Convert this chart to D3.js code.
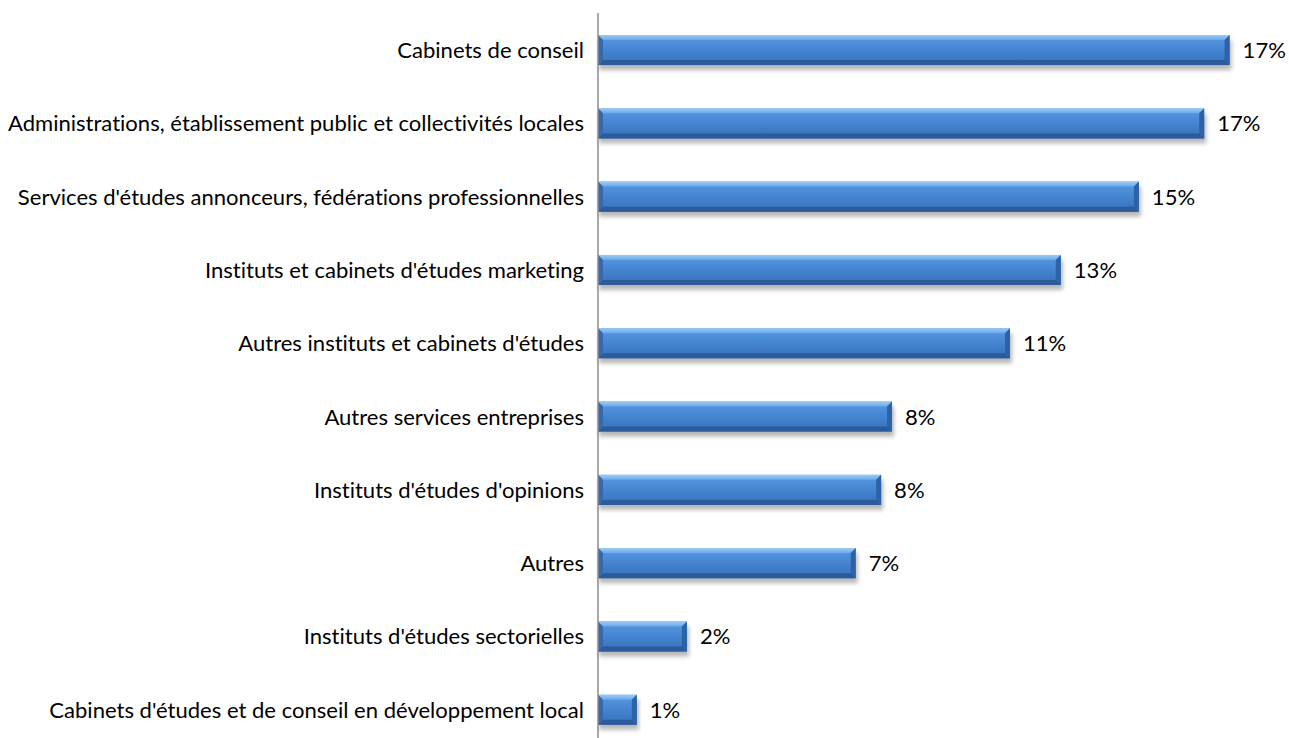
<!DOCTYPE html>
<html><head><meta charset="utf-8">
<script src="https://cdn.jsdelivr.net/npm/d3@7"></script>
<style>
html,body{margin:0;padding:0;background:#fff;}
text{font-family:Lato,"Open Sans",sans-serif;font-weight:400;font-variant-ligatures:none;font-feature-settings:"liga" 0,"clig" 0;}
</style></head>
<body><svg id="c" width="1289" height="738"></svg>
<script>
const categories = [
  "Cabinets de conseil",
  "Administrations, établissement public et collectivités locales",
  "Services d'études annonceurs, fédérations professionnelles",
  "Instituts et cabinets d'études marketing",
  "Autres instituts et cabinets d'études",
  "Autres services entreprises",
  "Instituts d'études d'opinions",
  "Autres",
  "Instituts d'études sectorielles",
  "Cabinets d'études et de conseil en développement local"
];
const values = [17.4, 16.7, 14.9, 12.75, 11.35, 8.1, 7.8, 7.1, 2.45, 1.07];
const valueLabels = ["17%","17%","15%","13%","11%","8%","8%","7%","2%","1%"];

const svg = d3.select("#c");
const x0 = 598;
const x = d3.scaleLinear().domain([0, 1]).range([x0, x0 + 3630]);
const y = d3.scaleBand().domain(categories).range([13.4, 746.4]).paddingInner(0.59).paddingOuter(0.295);

const defs = svg.append("defs");
const g1 = defs.append("linearGradient").attr("id","face").attr("x1",0).attr("y1",0).attr("x2",0).attr("y2",1);
[[0,"#5a9be2"],[0.45,"#4686d3"],[1,"#3670ba"]].forEach(s=>g1.append("stop").attr("offset",s[0]).attr("stop-color",s[1]));
const g2 = defs.append("linearGradient").attr("id","top").attr("x1",0).attr("y1",0).attr("x2",0).attr("y2",1);
[[0,"#9ccbf5"],[1,"#6aa8ea"]].forEach(s=>g2.append("stop").attr("offset",s[0]).attr("stop-color",s[1]));
const f = defs.append("filter").attr("id","sh").attr("x","-5%").attr("y","-30%").attr("width","110%").attr("height","180%");
f.append("feGaussianBlur").attr("stdDeviation",2.2);

const bw = 5;
const bars = svg.append("g").selectAll("g").data(categories.map((c,i)=>({c, v: values[i]/100, l: valueLabels[i]}))).join("g");

bars.append("rect")
  .attr("x", x0 + 1)
  .attr("y", d => y(d.c) + 5)
  .attr("width", d => x(d.v) - x0 + 1)
  .attr("height", y.bandwidth())
  .attr("fill", "#000").attr("opacity", 0.28).attr("filter","url(#sh)");

bars.each(function(d){
  const g = d3.select(this);
  const L = x0, R = x(d.v), T = y(d.c), B = y(d.c) + y.bandwidth();
  g.append("rect").attr("x",L).attr("y",T).attr("width",R-L).attr("height",B-T).attr("fill","url(#face)");
  const poly = (pts, fill) => g.append("polygon").attr("points", pts.map(p=>p.join(",")).join(" ")).attr("fill", fill);
  poly([[L,T],[R,T],[R-bw,T+bw],[L+bw,T+bw]], "url(#top)");
  poly([[L,B],[R,B],[R-bw,B-bw],[L+bw,B-bw]], "#2b5b9a");
  poly([[L,T],[L+bw,T+bw],[L+bw,B-bw],[L,B]], "#3568ad");
  poly([[R,T],[R-bw,T+bw],[R-bw,B-bw],[R,B]], "#2d62a6");
});

svg.append("line").attr("x1",x0).attr("x2",x0).attr("y1",13).attr("y2",738)
  .attr("stroke","#8c8c8c").attr("stroke-width",1.5);

const fs = 21.5;
const cat = svg.append("g").selectAll("text").data(categories).join("text")
  .attr("x", x0 - 14).attr("y", d => y(d) + y.bandwidth()/2)
  .attr("text-anchor","end").attr("dominant-baseline","central")
  .attr("font-size", fs).attr("fill","#000").text(d => d);

const val = bars.append("text")
  .attr("x", d => x(d.v) + 13).attr("y", d => y(d.c) + y.bandwidth()/2)
  .attr("dominant-baseline","central").attr("font-size", fs).attr("fill","#000")
  .text(d => d.l);

// narrow the glyphs to a Calibri-like width: longest label spans 576px
let maxW = 0; cat.each(function(){ maxW = Math.max(maxW, this.getComputedTextLength()); });
const k = 576 / maxW;
[cat, val].forEach(sel => sel.each(function(){
  const w = this.getComputedTextLength();
  d3.select(this).attr("textLength", w * k).attr("lengthAdjust","spacingAndGlyphs");
}));
</script></body></html>
